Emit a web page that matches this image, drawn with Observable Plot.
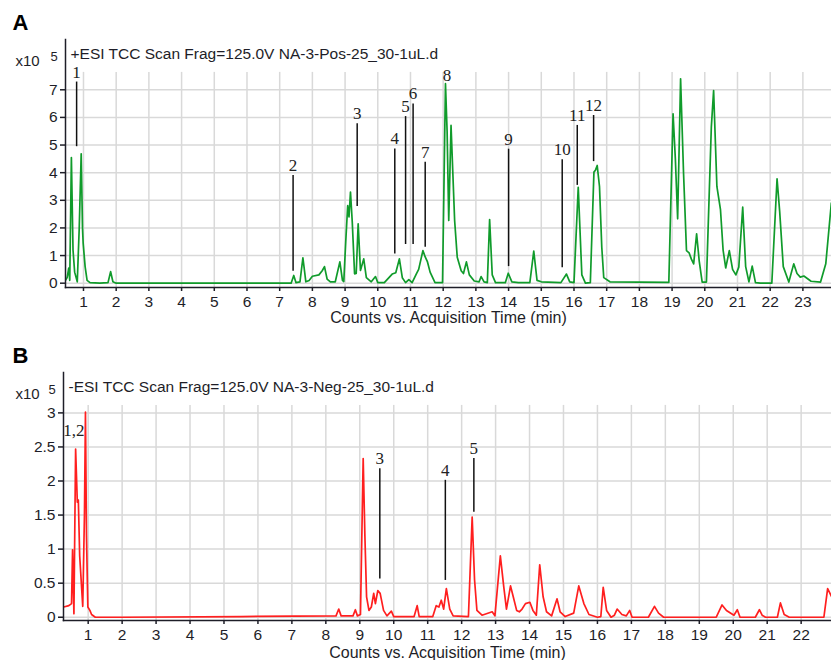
<!DOCTYPE html>
<html>
<head>
<meta charset="utf-8">
<script src="https://cdn.jsdelivr.net/npm/d3@7"></script>
<script src="https://cdn.jsdelivr.net/npm/@observablehq/plot@0.6"></script>
<style>
  html, body { margin: 0; padding: 0; background: #fff; }
  #chart { width: 831px; height: 660px; }
</style>
</head>
<body>
<div id="chart"></div>
<script>
// ---------- Panel A: +ESI (positive mode) ----------
const titleA = "+ESI TCC Scan Frag=125.0V NA-3-Pos-25_30-1uL.d";
const xTicksA = [1,2,3,4,5,6,7,8,9,10,11,12,13,14,15,16,17,18,19,20,21,22,23];
const yTicksA = [0,1,2,3,4,5,6,7];
// [time (min), counts (x10^5)]
const traceA = [
  [0.45,0.1],[0.5,0.2],[0.55,0.55],[0.58,0.1],[0.63,4.55],[0.68,1.2],[0.73,0.4],[0.81,0.05],
  [0.87,2.0],[0.93,4.68],[0.97,2.0],[0.99,1.45],[1.05,0.6],[1.11,0.1],[1.2,0.02],[1.5,0.0],
  [1.75,0.02],[1.83,0.42],[1.9,0.05],[2.0,0.0],[7.35,0.0],[7.43,0.28],[7.5,0.02],[7.62,0.05],
  [7.71,0.92],[7.8,0.05],[7.9,0.1],[8.0,0.25],[8.2,0.3],[8.3,0.45],[8.37,0.6],[8.45,0.15],
  [8.55,0.05],[8.7,0.05],[8.84,0.77],[8.92,0.1],[8.96,0.06],[9.02,1.5],[9.08,2.81],[9.12,2.4],
  [9.165,3.3],[9.22,2.2],[9.29,0.34],[9.34,0.35],[9.40,2.15],[9.47,0.46],[9.57,0.88],[9.65,0.2],
  [9.8,0.05],[9.93,0.24],[10.0,0.02],[10.2,0.02],[10.44,0.33],[10.55,0.38],[10.66,0.88],[10.75,0.2],
  [10.85,0.02],[10.95,0.13],[11.05,0.02],[11.18,0.34],[11.25,0.5],[11.38,1.18],[11.45,0.95],
  [11.52,0.77],[11.6,0.4],[11.75,0.02],[11.98,0.02],[12.07,7.22],[12.12,5.5],[12.17,2.27],
  [12.24,5.71],[12.35,2.27],[12.43,0.94],[12.55,0.45],[12.62,0.35],[12.71,0.77],[12.8,0.3],
  [12.95,0.08],[13.1,0.05],[13.16,0.24],[13.25,0.05],[13.35,0.02],[13.42,2.3],[13.5,0.3],
  [13.6,0.02],[13.9,0.02],[13.99,0.36],[14.1,0.05],[14.3,0.02],[14.65,0.02],[14.77,1.16],
  [14.87,0.1],[15.0,0.05],[15.6,0.02],[15.77,0.33],[15.87,0.05],[16.0,0.02],[16.13,3.47],
  [16.24,0.3],[16.35,0.0],[16.5,0.02],[16.61,4.02],[16.66,4.1],[16.71,4.26],[16.78,3.5],
  [16.85,1.3],[16.91,0.2],[17.1,0.05],[18.9,0.03],[19.03,6.13],[19.1,4.5],[19.17,2.33],
  [19.26,7.4],[19.35,4.0],[19.44,1.18],[19.52,1.1],[19.59,0.87],[19.66,0.7],[19.75,1.79],
  [19.83,0.8],[19.92,0.04],[20.05,0.04],[20.2,5.65],[20.27,6.97],[20.37,3.5],[20.48,2.66],
  [20.56,1.2],[20.64,0.55],[20.75,1.18],[20.85,0.5],[20.95,0.3],[21.04,0.58],[21.16,2.75],
  [21.25,0.6],[21.35,0.05],[21.45,0.62],[21.55,0.02],[21.7,0.0],[22.05,0.0],[22.21,3.78],
  [22.29,2.6],[22.4,0.6],[22.57,0.04],[22.72,0.7],[22.82,0.35],[22.92,0.22],[23.03,0.26],
  [23.25,0.07],[23.54,0.04],[23.7,0.7],[23.87,2.9]
];
// peak annotations: label, time, lower end, upper end (counts x10^5); null lower = label only
const peaksA = [
  {label:"1",  t:0.79,  lo:4.94, hi:7.28},
  {label:"2",  t:7.41,  lo:0.43, hi:3.9},
  {label:"3",  t:9.37,  lo:2.78, hi:5.77},
  {label:"4",  t:10.52, lo:1.06, hi:4.86},
  {label:"5",  t:10.85, lo:1.4,  hi:6.03},
  {label:"6",  t:11.08, lo:1.4,  hi:6.49},
  {label:"7",  t:11.45, lo:1.3,  hi:4.38},
  {label:"8",  t:12.12, lo:null, hi:7.15},
  {label:"9",  t:14.0,  lo:0.6,  hi:4.85},
  {label:"10", t:15.64, lo:0.56, hi:4.47},
  {label:"11", t:16.1,  lo:3.54, hi:5.71},
  {label:"12", t:16.6,  lo:4.4,  hi:6.07}
];

// ---------- Panel B: -ESI (negative mode) ----------
const titleB = "-ESI TCC Scan Frag=125.0V NA-3-Neg-25_30-1uL.d";
const xTicksB = [1,2,3,4,5,6,7,8,9,10,11,12,13,14,15,16,17,18,19,20,21,22];
const yTicksB = [0,0.5,1,1.5,2,2.5,3];
const traceB = [
  [0.28,0.15],[0.43,0.17],[0.51,0.2],[0.54,0.99],[0.58,0.05],[0.63,2.47],[0.68,1.69],[0.71,1.72],
  [0.75,0.9],[0.84,0.16],[0.89,1.5],[0.92,3.01],[0.95,1.2],[0.99,0.15],[1.05,0.1],[1.1,0.04],
  [1.21,0.0],[2,0.0],[5.5,0.01],[8.3,0.02],[8.38,0.12],[8.45,0.02],[8.8,0.02],[8.87,0.11],
  [8.93,0.02],[9.02,0.04],[9.1,2.33],[9.15,1.2],[9.2,0.3],[9.27,0.1],[9.34,0.15],[9.41,0.35],
  [9.46,0.2],[9.53,0.39],[9.6,0.35],[9.7,0.1],[9.8,0.02],[9.93,0.09],[10.0,0.01],[10.6,0.01],
  [10.69,0.17],[10.75,0.01],[11.15,0.01],[11.25,0.17],[11.33,0.15],[11.4,0.25],[11.47,0.12],
  [11.55,0.42],[11.65,0.12],[11.75,0.02],[12.2,0.01],[12.31,1.47],[12.38,0.55],[12.45,0.1],
  [12.6,0.03],[12.9,0.08],[12.98,0.02],[13.14,0.9],[13.24,0.45],[13.32,0.12],[13.44,0.46],
  [13.52,0.3],[13.62,0.1],[13.7,0.08],[13.78,0.12],[13.88,0.2],[14.01,0.22],[14.1,0.1],
  [14.2,0.03],[14.3,0.77],[14.4,0.3],[14.5,0.08],[14.65,0.02],[14.81,0.27],[14.9,0.08],
  [15.05,0.01],[15.3,0.06],[15.45,0.46],[15.6,0.2],[15.75,0.04],[16.0,0.0],[16.1,0.01],
  [16.17,0.44],[16.27,0.1],[16.4,0.0],[16.5,0.03],[16.58,0.12],[16.72,0.04],[16.85,0.02],
  [16.95,0.1],[17.02,0.0],[17.5,0.0],[17.68,0.16],[17.8,0.06],[17.95,0.0],[19.5,0.0],
  [19.67,0.18],[19.8,0.1],[20.02,0.03],[20.12,0.11],[20.2,0.0],[20.65,0.0],[20.77,0.11],
  [20.85,0.03],[20.95,0.0],[21.3,0.0],[21.39,0.21],[21.5,0.04],[21.65,0.0],[22.67,0.0],
  [22.78,0.42],[22.9,0.3]
];
const peaksB = [
  {label:"1,2", t:0.58,  lo:null, hi:2.6},
  {label:"3",   t:9.59,  lo:0.56, hi:2.18},
  {label:"4",   t:11.52, lo:0.54, hi:2.01},
  {label:"5",   t:12.36, lo:1.54, hi:2.33}
];

const panelLetters = ["A", "B"];
const axisTitle = "Counts vs. Acquisition Time (min)";
const scaleBase = "x10";
const scaleExponent = "5";

const GRID = "#d9d9d9";
const INK = "#1e1e28";
const SANS = "'Liberation Sans', Arial, sans-serif";
const SERIF = "'Liberation Serif', 'Times New Roman', serif";

function panel(o) {
  const x0 = o.xDomain[0], y1 = o.yDomain[1];
  return Plot.plot({
    width: 831,
    height: 330,
    marginLeft: o.ml, marginRight: 0, marginTop: o.mt, marginBottom: o.mb,
    style: {background: "#fff", fontFamily: SANS, color: INK, overflow: "visible"},
    x: {domain: o.xDomain},
    y: {domain: o.yDomain},
    marks: [
      Plot.ruleY(o.yTicks, {stroke: GRID, strokeWidth: 1.5}),
      Plot.ruleX(o.xTicks, {y1: o.yDomain[0], y2: o.gridTop, stroke: GRID, strokeWidth: 1.5}),
      Plot.line(o.trace, {x: d => d[0], y: d => d[1], stroke: o.color, strokeWidth: 1.7, clip: true}),
      Plot.ruleX(o.peaks, {filter: d => d.lo != null, x: "t", y1: "lo", y2: "hi", stroke: "#111", strokeWidth: 1.5}),
      Plot.text(o.peaks, {x: "t", y: "hi", text: "label", dy: -10, fontFamily: SERIF, fontSize: 17, fill: "#222"}),
      Plot.frame({anchor: "left", stroke: INK, strokeWidth: 1.5}),
      Plot.frame({anchor: "bottom", stroke: INK, strokeWidth: 1.5}),
      Plot.axisY(o.yTicks, {tickSize: 5, tickPadding: 3, fontSize: 15.5, label: null, tickFormat: d => String(d), strokeWidth: 1.5}),
      Plot.axisX(o.xTicks, {tickSize: 4, tickPadding: 4, fontSize: 15.5, label: null, tickFormat: d => String(d), strokeWidth: 1.5}),
      Plot.text([{s: axisTitle}], {text: "s", frameAnchor: "bottom", lineAnchor: "middle", dy: o.axisTitleDy, fontSize: 16, fill: INK}),
      Plot.text([{s: o.title}], {text: "s", frameAnchor: "top-left", lineAnchor: "middle", dx: 5, dy: o.titleDy, textAnchor: "start", fontSize: 15.5, fill: INK}),
      Plot.text([{s: scaleBase}], {text: "s", frameAnchor: "top-left", lineAnchor: "middle", dx: o.x10dx, dy: o.titleDy + 7, textAnchor: "start", fontSize: 15, fill: INK}),
      Plot.text([{s: scaleExponent}], {text: "s", x: x0, y: y1, lineAnchor: "middle", dx: -15, dy: o.titleDy + 2, textAnchor: "start", fontSize: 13, fill: INK}),
      Plot.text([{s: o.letter}], {text: "s", frameAnchor: "top-left", lineAnchor: "middle", dx: -o.ml + 12, dy: o.letterDy, textAnchor: "start", fontSize: 22, fontWeight: "bold", fill: "#000"})
    ]
  });
}

const chart = document.getElementById("chart");
chart.append(panel({
  ml: 65, mt: 39, mb: 43,
  xDomain: [0.45, 23.875], yDomain: [-0.156, 8.82], gridTop: 7.63,
  xTicks: xTicksA, yTicks: yTicksA, trace: traceA, peaks: peaksA,
  color: "#109b2b", title: titleA, titleDy: 15, x10dx: -50, letter: panelLetters[0],
  letterDy: -17, axisTitleDy: 30
}));
chart.append(panel({
  ml: 63, mt: 42, mb: 40,
  xDomain: [0.273, 22.894], yDomain: [-0.048, 3.593], gridTop: 3.11,
  xTicks: xTicksB, yTicks: yTicksB, trace: traceB, peaks: peaksB,
  color: "#ff1f1f", title: titleB, titleDy: 15, x10dx: -48, letter: panelLetters[1],
  letterDy: -17, axisTitleDy: 32
}));
</script>
</body>
</html>
